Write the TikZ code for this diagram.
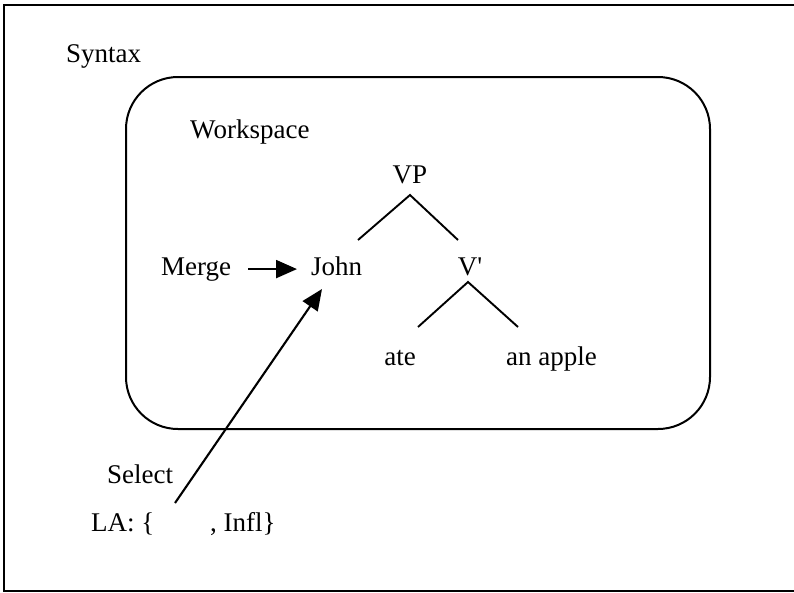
\documentclass[tikz,border=0pt]{standalone}
\usepackage{fontspec}
\setmainfont{Liberation Serif}
\usetikzlibrary{arrows.meta}
\begin{document}
\begin{tikzpicture}[x=1pt,y=-1pt,
  lbl/.style={inner sep=0pt,anchor=base west,font=\fontsize{27}{31}\selectfont},
  clbl/.style={inner sep=0pt,anchor=base,font=\fontsize{27}{31}\selectfont},
  branch/.style={line width=1.9pt},
  bigarrow/.style={line width=2.1pt,-{Triangle[length=21pt,width=18pt]}}]
\useasboundingbox (0,0) rectangle (794,592);
% outer frame (top, left, bottom)
\draw[line width=2pt] (794,5) -- (4,5) -- (4,591) -- (794,591);
% workspace box
\draw[line width=2pt,rounded corners=52pt] (126,77) rectangle (710,429);
% texts
\node[lbl] (syntax) at (66,62) {Syntax};
\node[lbl] (workspace) at (190,138) {Workspace};
\node[clbl] (vp) at (410,183) {VP};
\node[lbl] (merge) at (161,275) {Merge};
\node[lbl] (john) at (311,275) {John};
\node[clbl] (vbar) at (470,275) {V\textquotesingle};
\node[clbl] (ate) at (400,365) {ate};
\node[lbl] (apple) at (506,365) {an apple};
\node[lbl] (select) at (107,483) {Select};
\node[lbl] (la) at (91,531) {LA: \{};
\node[lbl] (infl) at (210,531) {, Infl\}};
% tree branches
\coordinate (vpapex) at (410,195);
\coordinate (vpl) at (358,240);
\coordinate (vpr) at (458,240);
\coordinate (vbapex) at (468,282);
\coordinate (vbl) at (418,327);
\coordinate (vbr) at (518,327);
\draw[branch] (vpl) -- (vpapex) -- (vpr);
\draw[branch] (vbl) -- (vbapex) -- (vbr);
% merge arrow
\draw[bigarrow,shorten <=17pt,shorten >=14pt] (merge.east) -- (john.west |- merge.east);
% select arrow
\coordinate (selstart) at (175,503);
\coordinate (johntip) at (322,289);
\draw[bigarrow] (selstart) -- (johntip);
\end{tikzpicture}
\end{document}
